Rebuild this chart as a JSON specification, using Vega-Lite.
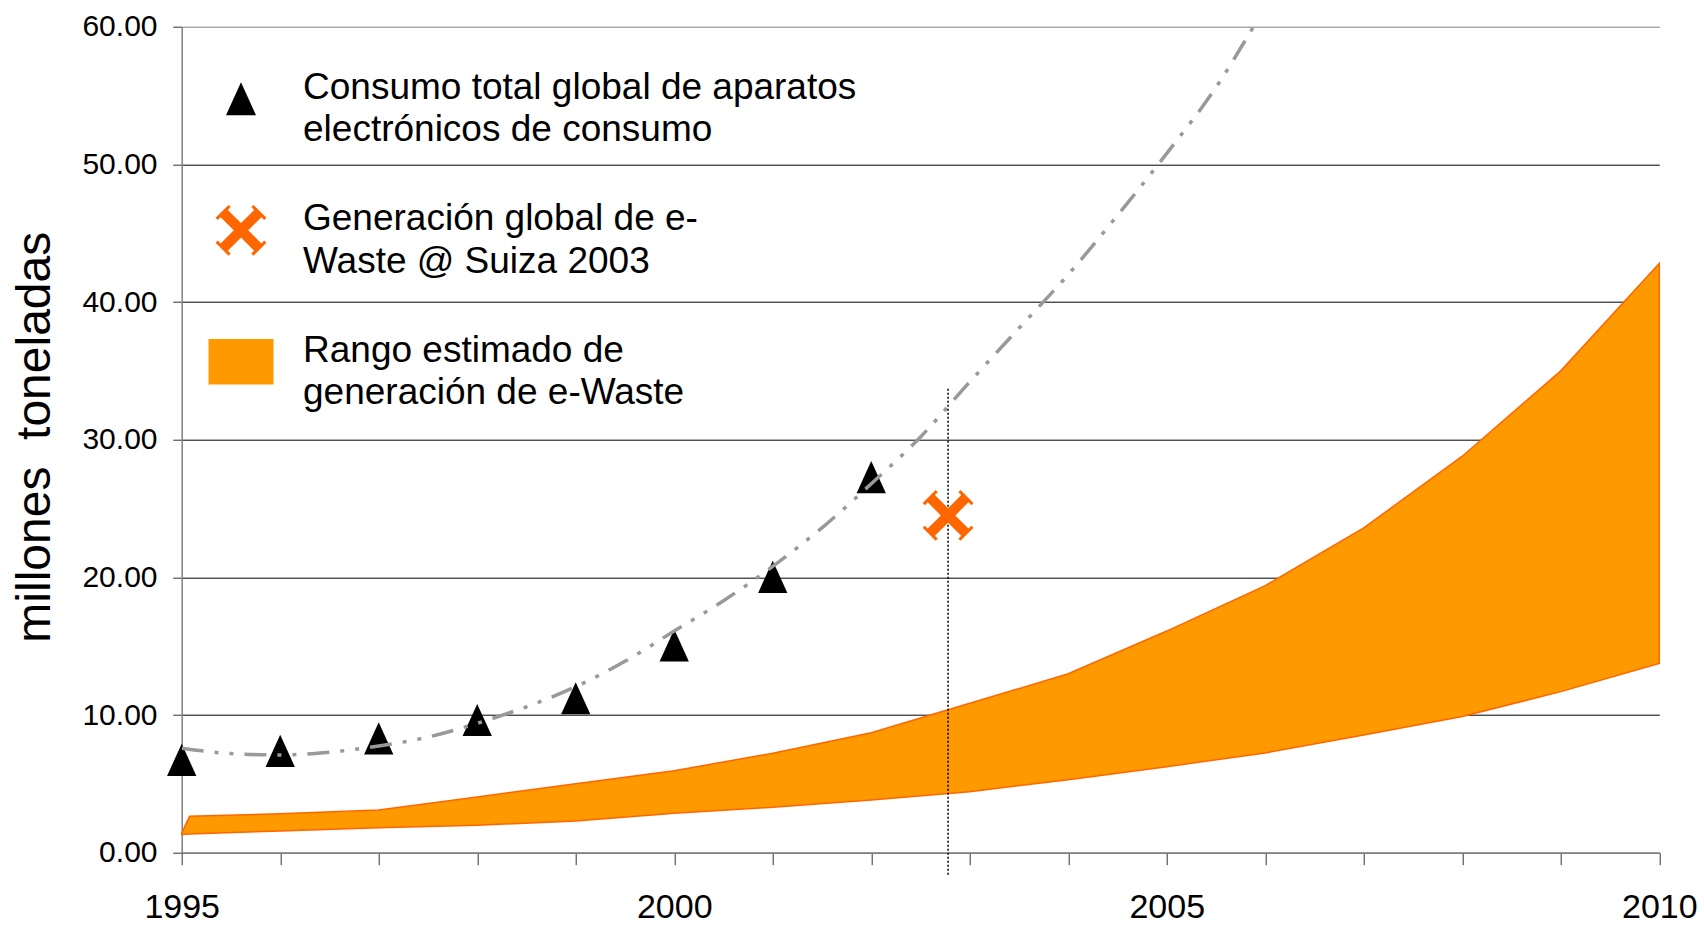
{
  "$schema": "https://vega.github.io/schema/vega-lite/v6.json",
  "width": 1477.6,
  "height": 826,
  "autosize": {"type": "none"},
  "padding": {"left": 181.7, "top": 26.7, "right": 44.7, "bottom": 72.3},
  "background": "white",
  "config": {"view": {"stroke": null}, "font": "Liberation Sans"},
  "datasets": {
    "consumo": [
      {"year": 1995, "value": 6.75, "series": "consumo"},
      {"year": 1996, "value": 7.40, "series": "consumo"},
      {"year": 1997, "value": 8.31, "series": "consumo"},
      {"year": 1998, "value": 9.64, "series": "consumo"},
      {"year": 1999, "value": 11.22, "series": "consumo"},
      {"year": 2000, "value": 15.06, "series": "consumo"},
      {"year": 2001, "value": 20.04, "series": "consumo"},
      {"year": 2002, "value": 27.28, "series": "consumo"}
    ],
    "suiza": [
      {"year": 2002.78, "value": 24.5, "series": "suiza"}
    ],
    "rango": [
      {"year": 1995, "lo": 1.33, "hi": 1.42, "series": "rango"},
      {"year": 1995.08, "lo": 1.36, "hi": 2.64, "series": "rango"},
      {"year": 1996, "lo": 1.58, "hi": 2.83, "series": "rango"},
      {"year": 1997, "lo": 1.82, "hi": 3.10, "series": "rango"},
      {"year": 1998, "lo": 2.0, "hi": 4.05, "series": "rango"},
      {"year": 1999, "lo": 2.3, "hi": 5.0, "series": "rango"},
      {"year": 2000, "lo": 2.86, "hi": 5.96, "series": "rango"},
      {"year": 2001, "lo": 3.3, "hi": 7.22, "series": "rango"},
      {"year": 2002, "lo": 3.83, "hi": 8.71, "series": "rango"},
      {"year": 2003, "lo": 4.43, "hi": 10.85, "series": "rango"},
      {"year": 2004, "lo": 5.3, "hi": 13.0, "series": "rango"},
      {"year": 2005, "lo": 6.25, "hi": 16.1, "series": "rango"},
      {"year": 2006, "lo": 7.25, "hi": 19.4, "series": "rango"},
      {"year": 2007, "lo": 8.55, "hi": 23.6, "series": "rango"},
      {"year": 2008, "lo": 9.9, "hi": 28.8, "series": "rango"},
      {"year": 2009, "lo": 11.7, "hi": 35.0, "series": "rango"},
      {"year": 2010, "lo": 13.75, "hi": 42.8, "series": "rango"}
    ],
    "trend": [
      {"year": 1995, "value": 7.58},
      {"year": 1995.5, "value": 7.2},
      {"year": 1996, "value": 7.1},
      {"year": 1996.5, "value": 7.3},
      {"year": 1997, "value": 7.75},
      {"year": 1997.5, "value": 8.4},
      {"year": 1998, "value": 9.4},
      {"year": 1998.5, "value": 10.6},
      {"year": 1999, "value": 12.06},
      {"year": 1999.5, "value": 13.9},
      {"year": 2000, "value": 16.1},
      {"year": 2000.5, "value": 18.3},
      {"year": 2001, "value": 20.8},
      {"year": 2001.5, "value": 23.6},
      {"year": 2002, "value": 26.8},
      {"year": 2002.5, "value": 30.2},
      {"year": 2003, "value": 34.2},
      {"year": 2003.5, "value": 38.1},
      {"year": 2004, "value": 42.0},
      {"year": 2004.5, "value": 46.3},
      {"year": 2005, "value": 50.8},
      {"year": 2005.5, "value": 55.6},
      {"year": 2005.88, "value": 60}
    ],
    "marca": [
      {"year": 2002.78, "top": 33.7, "bottom": -1.6}
    ]
  },
  "layer": [
    {
      "data": {"name": "rango"},
      "mark": {"type": "area", "stroke": "#FF6600", "strokeWidth": 1.5, "fillOpacity": 1, "interpolate": "linear"},
      "encoding": {
        "x": {
          "field": "year", "type": "quantitative",
          "scale": {"domain": [1995, 2010], "nice": false, "zero": false},
          "axis": {
            "values": [1995, 1996, 1997, 1998, 1999, 2000, 2001, 2002, 2003, 2004, 2005, 2006, 2007, 2008, 2009, 2010],
            "grid": false, "tickSize": 12, "tickColor": "#333333", "tickWidth": 1,
            "domainColor": "#808080", "domainWidth": 1.5,
            "labelExpr": "datum.value % 5 === 0 ? format(datum.value, 'd') : ''",
            "labelFont": "Liberation Sans", "labelFontSize": 34, "labelColor": "#000000",
            "labelPadding": 26, "labelFlush": false, "labelOverlap": false,
            "title": null
          }
        },
        "y": {
          "field": "hi", "type": "quantitative",
          "scale": {"domain": [0, 60], "nice": false, "zero": true},
          "axis": {
            "values": [0, 10, 20, 30, 40, 50, 60],
            "format": ".2f",
            "grid": true,
            "gridColor": {"condition": {"test": "datum.value === 60", "value": "#808080"}, "value": "#000000"},
            "gridWidth": 1,
            "tickSize": 9, "tickColor": "#333333",
            "domainColor": "#808080", "domainWidth": 1.5,
            "labelFont": "Liberation Sans", "labelFontSize": 30, "labelColor": "#000000",
            "labelPadding": 15.7, "labelFlush": false, "labelOverlap": false,
            "title": "millones\u00a0\u00a0toneladas",
            "titleFont": "Liberation Sans", "titleFontSize": 48, "titleFontWeight": "normal",
            "titleColor": "#000000", "titleAngle": 270, "titleAlign": "center", "titleBaseline": "middle",
            "titleX": -146, "titleY": 410
          }
        },
        "y2": {"field": "lo"},
        "color": {
          "field": "series", "type": "nominal",
          "scale": {"domain": ["consumo", "suiza", "rango"], "range": ["#000000", "#FF6600", "#FF9900"]}
        }
      }
    },
    {
      "data": {"name": "consumo"},
      "mark": {"type": "point", "filled": true, "opacity": 1, "size": 858},
      "encoding": {
        "x": {"field": "year", "type": "quantitative"},
        "y": {"field": "value", "type": "quantitative"},
        "color": {
          "field": "series", "type": "nominal",
          "scale": {"domain": ["consumo", "suiza", "rango"], "range": ["#000000", "#FF6600", "#FF9900"]},
          "legend": {
            "orient": "none", "legendX": 40.8, "legendY": 53.6, "title": null, "padding": 0, "offset": 0,
            "labelFont": "Liberation Sans", "labelFontSize": 37, "labelColor": "#000000", "labelLimit": 2000,
            "labelOffset": 43.5, "labelBaseline": "alphabetic", "rowPadding": 51.5,
            "symbolStrokeWidth": 0, "symbolOpacity": 1,
            "labelExpr": "datum.value === 'consumo' ? ['Consumo total global de aparatos', 'electrónicos de consumo'] : datum.value === 'suiza' ? ['Generación global de e-', 'Waste @ Suiza 2003'] : ['Rango estimado de', 'generación de e-Waste']",
            "encoding": {
              "symbols": {"size": {"value": {"expr": "datum.value === 'suiza' ? 2601 : datum.value === 'rango' ? 4225 : 900"}}},
              "labels": {"lineHeight": {"value": 42.5}}
            }
          }
        },
        "shape": {
          "field": "series", "type": "nominal",
          "scale": {
            "domain": ["consumo", "suiza", "rango"],
            "range": [
              "M0,-1.1L1,1.1L-1,1.1Z",
              "M0.283,0L0.799,0.516L0.912,0.403L0.997,0.488L0.488,0.997L0.403,0.912L0.516,0.799L0,0.283L-0.516,0.799L-0.403,0.912L-0.488,0.997L-0.997,0.488L-0.912,0.403L-0.799,0.516L-0.283,0L-0.799,-0.516L-0.912,-0.403L-0.997,-0.488L-0.488,-0.997L-0.403,-0.912L-0.516,-0.799L0,-0.283L0.516,-0.799L0.403,-0.912L0.488,-0.997L0.997,-0.488L0.912,-0.403L0.799,-0.516Z",
              "M-1,-0.7H1V0.7H-1Z"
            ]
          },
          "legend": {
            "orient": "none", "legendX": 40.8, "legendY": 53.6, "title": null, "padding": 0, "offset": 0,
            "labelFont": "Liberation Sans", "labelFontSize": 37, "labelColor": "#000000", "labelLimit": 2000,
            "labelOffset": 43.5, "labelBaseline": "alphabetic", "rowPadding": 51.5,
            "symbolStrokeWidth": 0, "symbolOpacity": 1,
            "labelExpr": "datum.value === 'consumo' ? ['Consumo total global de aparatos', 'electrónicos de consumo'] : datum.value === 'suiza' ? ['Generación global de e-', 'Waste @ Suiza 2003'] : ['Rango estimado de', 'generación de e-Waste']",
            "encoding": {
              "symbols": {"size": {"value": {"expr": "datum.value === 'suiza' ? 2601 : datum.value === 'rango' ? 4225 : 900"}}},
              "labels": {"lineHeight": {"value": 42.5}}
            }
          }
        }
      }
    },
    {
      "data": {"name": "trend"},
      "mark": {"type": "line", "color": "#999999", "strokeWidth": 3.5, "strokeDash": [22, 11, 4, 11, 4, 11], "interpolate": "monotone", "clip": true},
      "encoding": {
        "x": {"field": "year", "type": "quantitative"},
        "y": {"field": "value", "type": "quantitative"}
      }
    },
    {
      "data": {"name": "marca"},
      "mark": {"type": "rule", "color": "#000000", "strokeWidth": 1.5, "strokeDash": [2, 2]},
      "encoding": {
        "x": {"field": "year", "type": "quantitative"},
        "y": {"field": "top", "type": "quantitative"},
        "y2": {"field": "bottom"}
      }
    },
    {
      "data": {"name": "suiza"},
      "mark": {"type": "point", "filled": true, "opacity": 1, "size": 2601},
      "encoding": {
        "x": {"field": "year", "type": "quantitative"},
        "y": {"field": "value", "type": "quantitative"},
        "color": {
          "field": "series", "type": "nominal",
          "scale": {"domain": ["consumo", "suiza", "rango"], "range": ["#000000", "#FF6600", "#FF9900"]}
        },
        "shape": {
          "field": "series", "type": "nominal",
          "scale": {
            "domain": ["consumo", "suiza", "rango"],
            "range": [
              "M0,-1.1L1,1.1L-1,1.1Z",
              "M0.283,0L0.799,0.516L0.912,0.403L0.997,0.488L0.488,0.997L0.403,0.912L0.516,0.799L0,0.283L-0.516,0.799L-0.403,0.912L-0.488,0.997L-0.997,0.488L-0.912,0.403L-0.799,0.516L-0.283,0L-0.799,-0.516L-0.912,-0.403L-0.997,-0.488L-0.488,-0.997L-0.403,-0.912L-0.516,-0.799L0,-0.283L0.516,-0.799L0.403,-0.912L0.488,-0.997L0.997,-0.488L0.912,-0.403L0.799,-0.516Z",
              "M-1,-0.7H1V0.7H-1Z"
            ]
          }
        }
      }
    }
  ]
}
